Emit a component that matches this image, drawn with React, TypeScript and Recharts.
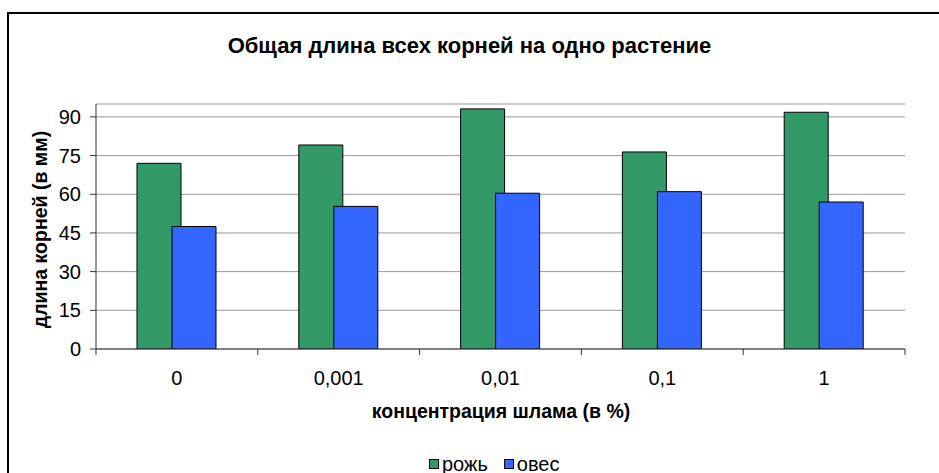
import React from 'react';
import { BarChart, Bar, XAxis, YAxis, CartesianGrid, Legend } from 'recharts';

const categories = ['0', '0,001', '0,01', '0,1', '1'];
const ryeValues = [72.0, 79.1, 93.1, 76.4, 91.8];
const oatValues = [47.5, 55.3, 60.4, 61.0, 57.0];
const yTicks = [0, 15, 30, 45, 60, 75, 90];
const seriesNames = { rye: 'рожь', oat: 'овес' };
const titleText = 'Общая длина всех корней на одно растение';
const xTitle = 'концентрация шлама (в %)';
const yTitle = 'длина корней (в мм)';

const data = categories.map((c, i) => ({ name: c, rye: ryeValues[i], oat: oatValues[i] }));

const FONT = '"Liberation Sans", Arial, sans-serif';
const GREEN = '#339966';
const BLUE = '#3366FF';
const AXIS = '#333333';

const XTick = (props: any) => {
  const { x, y, payload, index } = props;
  const half = payload && payload.offset ? payload.offset : 80.9;
  const last = index === categories.length - 1;
  return (
    <g>
      <line x1={x - half} y1={y} x2={x - half} y2={y + 6} stroke={AXIS} strokeWidth={1} />
      {last && <line x1={x + half} y1={y} x2={x + half} y2={y + 6} stroke={AXIS} strokeWidth={1} />}
      <text x={x} y={y + 36} textAnchor="middle" fontFamily={FONT} fontSize={20} fill="#000">
        {payload.value}
      </text>
    </g>
  );
};

const LegendContent = () => (
  <div style={{ position: 'absolute', left: 429, top: 0, display: 'flex', alignItems: 'center', fontFamily: FONT, fontSize: 20, color: '#000', whiteSpace: 'nowrap', height: 24 }}>
    {[{ c: GREEN, n: seriesNames.rye }, { c: BLUE, n: seriesNames.oat }].map((it, i) => (
      <div key={it.n} style={{ display: 'flex', alignItems: 'center', marginRight: i === 0 ? 16 : 0 }}>
        <span style={{ display: 'inline-block', width: 10, height: 10, background: it.c, border: '1px solid #000', boxSizing: 'border-box', marginRight: 3 }} />
        <span>{it.n}</span>
      </div>
    ))}
  </div>
);

export default function App() {
  return (
    <div style={{ position: 'absolute', left: 0, top: 0, width: 939, height: 473, overflow: 'hidden', background: '#fff' }}>
      <div style={{ position: 'absolute', left: 7, top: 12, width: 960, height: 480, borderTop: '2px solid #000', borderLeft: '2px solid #000', boxSizing: 'border-box' }} />
      <div style={{ position: 'absolute', left: 0, top: 33, width: 939, textAlign: 'center', fontFamily: FONT, fontWeight: 'bold', fontSize: 22, color: '#000' }}>
        {titleText}
      </div>
      <div style={{ position: 'absolute', left: 0, top: 400, width: 1002, textAlign: 'center', fontFamily: FONT, fontWeight: 'bold', fontSize: 19.5, color: '#000' }}>
        {xTitle}
      </div>
      <div style={{ position: 'absolute', left: 40, top: 229, width: 0, height: 0 }}>
        <div style={{ position: 'absolute', left: -150, top: -11, width: 300, textAlign: 'center', transform: 'rotate(-90deg)', fontFamily: FONT, fontWeight: 'bold', fontSize: 19.5, color: '#000', whiteSpace: 'nowrap' }}>
          {yTitle}
        </div>
      </div>
      <div style={{ position: 'absolute', left: 0, top: 0 }}>
        <BarChart
          width={939}
          height={473}
          data={data}
          margin={{ top: 104, right: 34, bottom: 94, left: 36 }}
          barSize={44}
          barGap={-9}
        >
          <CartesianGrid horizontal vertical={false} stroke="#999999" strokeWidth={1} />
          <XAxis
            dataKey="name"
            height={30}
            axisLine={{ stroke: AXIS, strokeWidth: 1 }}
            tickLine={false}
            tickSize={0}
            tickMargin={0}
            interval={0}
            tick={<XTick />}
          />
          <YAxis
            width={60}
            domain={[0, 95]}
            ticks={yTicks}
            interval={0}
            allowDataOverflow
            axisLine={{ stroke: AXIS, strokeWidth: 1 }}
            tickLine={{ stroke: AXIS, strokeWidth: 1 }}
            tickSize={6}
            tickMargin={9}
            tick={{ fontFamily: FONT, fontSize: 20, fill: '#000' }}
          />
          <Legend verticalAlign="middle" layout="horizontal" content={<LegendContent />} wrapperStyle={{ top: 452, left: 0, width: 939, height: 24 }} />
          <Bar dataKey="rye" name={seriesNames.rye} fill={GREEN} stroke="#000" strokeWidth={1} isAnimationActive={false} />
          <Bar dataKey="oat" name={seriesNames.oat} fill={BLUE} stroke="#000" strokeWidth={1} isAnimationActive={false} />
        </BarChart>
      </div>
    </div>
  );
}
